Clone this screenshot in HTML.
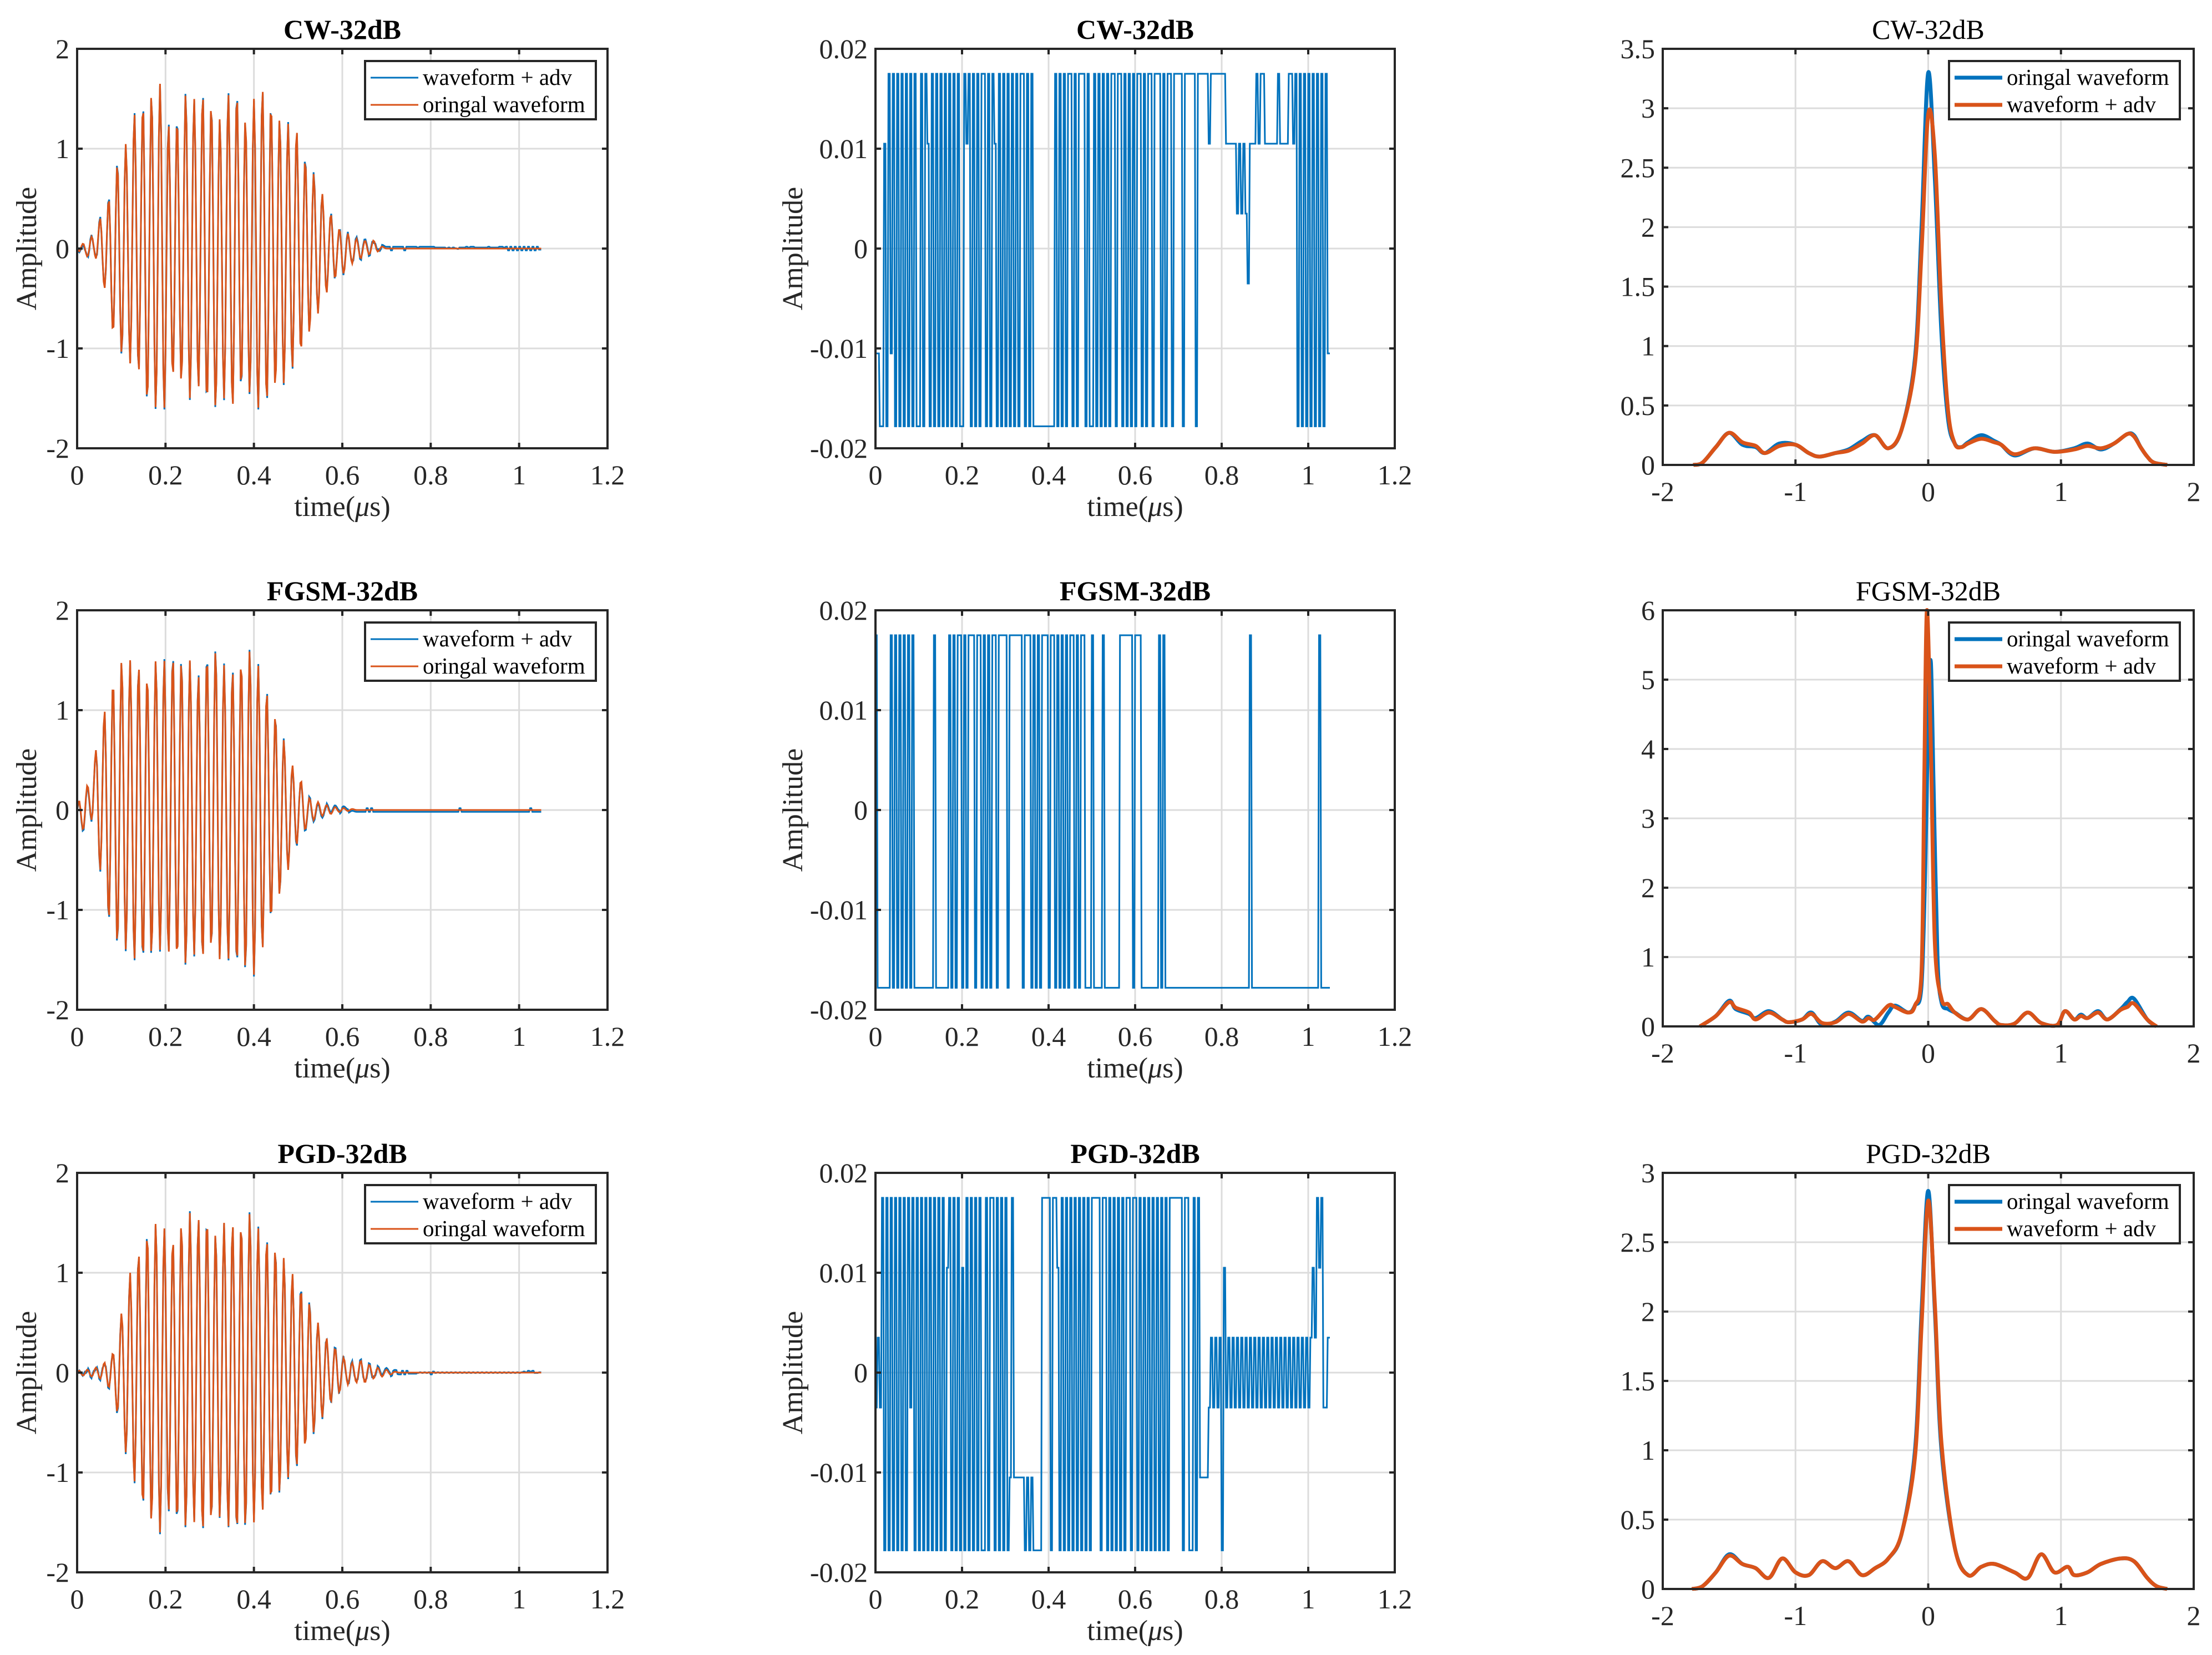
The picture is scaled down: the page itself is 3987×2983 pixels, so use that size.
<!DOCTYPE html>
<html><head><meta charset="utf-8"><style>
html,body{margin:0;padding:0;background:#fff;}
svg{display:block;font-family:"Liberation Serif","DejaVu Serif",serif;}
</style></head><body>
<svg id="fig" xmlns="http://www.w3.org/2000/svg" width="3987" height="2983" viewBox="0 0 3987 2983"></svg>
<script>
// ---------- data ----------
const waveHalfPeriod = 0.00966;
const waveStart = 0.004;
const cwWave = [-0.03,0.05,-0.08,0.12,-0.1, 0.3,-0.4,0.5,-0.85,0.85, -1.05,1.05,-1.15,1.35,-1.25, 1.45,-1.55,1.55,-1.6,1.65, -1.6,1.25,-1.3,1.3,-1.35, 1.55,-1.5,1.5,-1.4,1.55, -1.55,1.45,-1.6,1.3,-1.5, 1.55,-1.6,1.55,-1.4,1.3, -1.45,1.5,-1.6,1.6,-1.55, 1.45,-1.4,1.3,-1.35,1.25, -1.2,1.2,-1.05,0.9,-0.85, 0.75,-0.65,0.55,-0.45,0.35, -0.3,0.2,-0.25,0.15,-0.15, 0.1,-0.1,0.08,-0.06,0.08, -0.03,0.02];
const fgsmWave = [0.1,-0.2,0.25,-0.1,0.6, -0.6,1.0,-1.1,1.3,-1.35, 1.5,-1.4,1.5,-1.5,1.45, -1.5,1.35,-1.45,1.5,-1.4, 1.5,-1.45,1.55,-1.5,1.5, -1.55,1.5,-1.45,1.35,-1.5, 1.55,-1.4,1.6,-1.5,1.45, -1.5,1.4,-1.55,1.5,-1.6, 1.6,-1.65,1.45,-1.4,1.2, -1.1,0.95,-0.85,0.7,-0.6, 0.45,-0.35,0.3,-0.2,0.12, -0.1,0.08,-0.06,0.05,-0.04, 0.03,-0.02,0.02,-0.01,0.01];
const pgdWave = [0.02,-0.03,0.03,-0.04,0.05, -0.06,0.1,-0.15,0.2,-0.4, 0.6,-0.8,1.0,-1.1,1.2, -1.35,1.4,-1.5,1.5,-1.6, 1.45,-1.4,1.35,-1.5,1.5, -1.55,1.6,-1.5,1.55,-1.6, 1.55,-1.5,1.4,-1.45,1.5, -1.55,1.5,-1.6,1.5,-1.55, 1.6,-1.5,1.45,-1.4,1.35, -1.3,1.25,-1.2,1.15,-1.05, 1.0,-0.95,0.85,-0.75,0.7, -0.6,0.5,-0.45,0.35,-0.3, 0.25,-0.2,0.15,-0.12,0.1, -0.1,0.12,-0.1,0.08,-0.06, 0.05,-0.04,0.03,-0.02,0.01];

// perturbation: one char per 0.005 us, level index 0..5 -> -0.0175 .. 0.0175
const pertStep = 0.005;
const pertLevels = [-0.0178,-0.0105,-0.0035,0.0035,0.0105,0.0175];
const cwPert = "1100405150"+"5050505050"+"0505405050"+"5050505050"+"0545050505"+"5050540505"+"0505050550"+"5050000000"+"0005050505"+"5050555050"+"0505050505"+"5055050505"+"0550505505"+"5505055055"+"5505555505"+"5555455555"+"5544444343"+"4324445455"+"4444445444"+"4554505050"+"5050505051"+"1";
const fgsmPert = "5000000505"+"0505050500"+"0000000500"+"0000505055"+"0505550550"+"5050550555"+"5055555505"+"5505050555"+"0550505050"+"5505055000"+"5000050000"+"0005555550"+"5550000000"+"0505000000"+"0000000000"+"0000000000"+"0000000000"+"0005000000"+"0000000000"+"0000000000"+"0000050000"+"0";
const pgdPert = "2325050505"+"0505052505"+"0505050505"+"0504505050"+"4050505050"+"0505505050"+"5015111110"+"1010000555"+"5055405050"+"5050505050"+"5555055050"+"5050505505"+"5050505050"+"5050505555"+"5505500505"+"1111232323"+"0423232323"+"2323232323"+"2323232323"+"2323232323"+"2343545223"+"3";

// spectra
const cwSpecX = [-1.77,-1.7,-1.6,-1.5,-1.4,-1.3,-1.23,-1.12,-1.0,-0.9,-0.82,-0.7,-0.6,-0.5,-0.4,-0.3,-0.2,-0.1,-0.05,0,0.05,0.1,0.15,0.2,0.25,0.3,0.4,0.5,0.55,0.65,0.8,0.95,1.1,1.2,1.3,1.4,1.5,1.55,1.6,1.65,1.7,1.8];
const cwSpecOrig = [0,0.02,0.15,0.27,0.17,0.15,0.1,0.18,0.17,0.1,0.07,0.1,0.13,0.2,0.25,0.14,0.3,0.9,2.0,3.3,2.4,1.1,0.38,0.18,0.15,0.19,0.25,0.2,0.17,0.08,0.14,0.11,0.14,0.18,0.13,0.18,0.26,0.25,0.15,0.07,0.02,0];
const cwSpecAdv = [0,0.02,0.15,0.27,0.19,0.16,0.1,0.16,0.17,0.1,0.07,0.1,0.12,0.18,0.25,0.14,0.3,0.85,1.8,2.95,2.6,1.3,0.45,0.18,0.15,0.18,0.22,0.19,0.17,0.09,0.14,0.11,0.13,0.16,0.14,0.18,0.26,0.24,0.15,0.07,0.02,0];

const fgsmSpecXOrig = [-1.72,-1.6,-1.5,-1.45,-1.35,-1.3,-1.2,-1.1,-1.05,-0.95,-0.88,-0.8,-0.7,-0.6,-0.5,-0.45,-0.37,-0.3,-0.25,-0.15,-0.1,-0.05,-0.02,0,0.02,0.04,0.07,0.1,0.15,0.2,0.3,0.4,0.5,0.55,0.65,0.75,0.85,0.97,1.03,1.1,1.15,1.2,1.28,1.35,1.45,1.5,1.55,1.65,1.72];
const fgsmSpecOrig = [0,0.15,0.37,0.25,0.18,0.12,0.22,0.1,0.06,0.1,0.2,0.02,0.07,0.2,0.08,0.14,0.02,0.2,0.3,0.2,0.3,0.6,2.5,4.5,5.25,3.5,1.0,0.35,0.25,0.2,0.1,0.25,0.08,0.02,0.04,0.2,0.05,0.02,0.22,0.1,0.17,0.12,0.22,0.1,0.25,0.35,0.4,0.1,0];
const fgsmSpecXAdv = [-1.72,-1.6,-1.5,-1.45,-1.35,-1.3,-1.2,-1.1,-1.05,-0.95,-0.88,-0.8,-0.7,-0.6,-0.5,-0.45,-0.4,-0.3,-0.25,-0.15,-0.1,-0.05,-0.03,-0.01,0.02,0.05,0.1,0.15,0.2,0.3,0.4,0.5,0.55,0.65,0.75,0.85,0.97,1.03,1.1,1.15,1.2,1.28,1.35,1.45,1.5,1.55,1.65,1.72];
const fgsmSpecAdv = [0,0.15,0.35,0.27,0.2,0.1,0.2,0.1,0.06,0.1,0.18,0.05,0.06,0.18,0.07,0.12,0.1,0.3,0.28,0.2,0.3,0.8,3.5,6.0,4.0,1.2,0.4,0.32,0.2,0.1,0.25,0.08,0.02,0.04,0.2,0.05,0.02,0.22,0.1,0.15,0.12,0.2,0.1,0.24,0.28,0.33,0.1,0];

const pgdSpecX = [-1.78,-1.7,-1.6,-1.5,-1.4,-1.3,-1.2,-1.1,-1.0,-0.9,-0.8,-0.7,-0.6,-0.5,-0.4,-0.3,-0.2,-0.1,-0.05,0,0.05,0.1,0.2,0.3,0.4,0.5,0.65,0.75,0.85,0.95,1.05,1.1,1.2,1.3,1.45,1.55,1.65,1.72,1.8];
const pgdSpecOrig = [0,0.02,0.12,0.25,0.18,0.15,0.08,0.22,0.12,0.1,0.2,0.15,0.2,0.1,0.15,0.22,0.4,1.0,2.0,2.87,2.0,1.0,0.3,0.1,0.16,0.18,0.12,0.08,0.25,0.12,0.16,0.1,0.12,0.18,0.22,0.2,0.08,0.02,0];
const pgdSpecAdv = [0,0.02,0.12,0.24,0.18,0.15,0.08,0.22,0.12,0.1,0.2,0.15,0.2,0.1,0.15,0.22,0.4,0.95,1.9,2.8,2.05,1.05,0.3,0.1,0.16,0.18,0.12,0.08,0.25,0.12,0.16,0.1,0.12,0.18,0.22,0.2,0.08,0.02,0];

const leftYTicks = [-2,-1,0,1,2];
const timeTicks = [0,0.2,0.4,0.6,0.8,1,1.2];
const pertTicks = [-0.02,-0.01,0,0.01,0.02];
const specXTicks = [-2,-1,0,1,2];
const cwSpecTicks = [0,0.5,1,1.5,2,2.5,3,3.5];
const fgsmSpecTicks = [0,1,2,3,4,5,6];
const pgdSpecTicks = [0,0.5,1,1.5,2,2.5,3];

// ---------- drawing ----------
const NS = "http://www.w3.org/2000/svg";
const svg = document.getElementById("fig");
const BLUE = "#0072BD", ORANGE = "#D95319", INK = "#262626", GRID = "#dcdcdc";
function mk(tag, parent, attrs){ const e = document.createElementNS(NS, tag); for (const k in attrs) e.setAttribute(k, attrs[k]); parent.appendChild(e); return e; }
function fmt(v){ return (Math.round(v*1000)/1000).toString(); }

function makeAxes(name, x0, y0, w, h, xmin, xmax, ymin, ymax, xt, yt, title, titleBold, showXLabel, yLabelOff){
  const g = mk("g", svg, {});
  
  
  const sx = v => x0 + (v - xmin) / (xmax - xmin) * w;
  const sy = v => y0 + h - (v - ymin) / (ymax - ymin) * h;
  const grid = mk("g", g, {stroke: GRID, "stroke-width": 3});
  
  
  xt.forEach(v => { if (v > xmin && v < xmax) mk("line", grid, {x1: sx(v), x2: sx(v), y1: y0, y2: y0 + h}); });
  yt.forEach(v => { if (v > ymin && v < ymax) mk("line", grid, {x1: x0, x2: x0 + w, y1: sy(v), y2: sy(v)}); });
  const plot = mk("g", g, {});
  
  
  const over = mk("g", g, {});
  const frame = mk("rect", over, {x: x0, y: y0, width: w, height: h, fill: "none", stroke: INK, "stroke-width": 4});
  
  
  const ticks = mk("g", over, {stroke: INK, "stroke-width": 4});
  xt.forEach(v => { mk("line", ticks, {x1: sx(v), x2: sx(v), y1: y0 + h, y2: y0 + h - 10}); mk("line", ticks, {x1: sx(v), x2: sx(v), y1: y0, y2: y0 + 10}); });
  yt.forEach(v => { mk("line", ticks, {x1: x0, x2: x0 + 10, y1: sy(v), y2: sy(v)}); mk("line", ticks, {x1: x0 + w, x2: x0 + w - 10, y1: sy(v), y2: sy(v)}); });
  xt.forEach(v => {
    const t = mk("text", over, {x: sx(v), y: y0 + h + 65, "text-anchor": "middle", "font-size": 50, fill: INK});
    t.textContent = fmt(v);
    
    
  });
  yt.forEach(v => {
    const t = mk("text", over, {x: x0 - 14, y: sy(v) + 17, "text-anchor": "end", "font-size": 50, fill: INK});
    t.textContent = fmt(v);
    
    
  });
  const tt = mk("text", over, {x: x0 + w / 2, y: y0 - 18, "text-anchor": "middle", "font-size": 50, "font-weight": titleBold ? "bold" : "normal", fill: "#000"});
  tt.textContent = title;
  
  
  if (showXLabel){
    const xl = mk("text", over, {x: x0 + w / 2, y: y0 + h + 122, "text-anchor": "middle", "font-size": 52, fill: INK});
    xl.innerHTML = 'time(<tspan font-style="italic">μ</tspan>s)';
    
    
  }
  if (yLabelOff){
    const cx = x0 - yLabelOff, cy = y0 + h / 2;
    const yl = mk("text", over, {x: cx, y: cy, "text-anchor": "middle", "font-size": 52, fill: INK, transform: `rotate(-90 ${cx} ${cy}) translate(0 17)`});
    yl.textContent = "Amplitude";
    
    
  }
  return {sx, sy, plot, over, x0, y0, w, h};
}

function legend(ax, entries, lx, ly, lw, lh, lw1){
  const g = mk("g", ax.over, {});
  
  
  mk("rect", g, {x: lx, y: ly, width: lw, height: lh, fill: "#fff", stroke: INK, "stroke-width": 4});
  entries.forEach((en, i) => {
    const cy = ly + 30 + i * 49;
    const e = mk("g", g, {});
    
    
    mk("line", e, {x1: lx + 10, x2: lx + 96, y1: cy, y2: cy, stroke: en[1], "stroke-width": lw1});
    const t = mk("text", e, {x: lx + 104, y: cy + 13, "font-size": 41, fill: "#000"});
    t.textContent = en[0];
  });
}

function waveAt(arr, t){
  const k = (t - waveStart) / waveHalfPeriod;
  if (k < 0) return arr[0] * Math.max(0, (t / waveStart));
  const i = Math.floor(k), f = k - i;
  const a = i < arr.length ? arr[i] : 0, b = i + 1 < arr.length ? arr[i + 1] : 0;
  const s = (1 - Math.cos(Math.PI * f)) / 2;
  return a + (b - a) * s;
}
function pertAt(str, t){
  let i = Math.floor(t / pertStep + 1e-9); if (i >= str.length) i = str.length - 1;
  return pertLevels[+str[i]];
}
function pathFrom(pts){ return pts.map((p, i) => (i ? "L" : "M") + p[0].toFixed(1) + " " + p[1].toFixed(1)).join(""); }
function smoothPath(pts){
  let d = "M" + pts[0][0] + " " + pts[0][1];
  for (let i = 0; i < pts.length - 1; i++){
    const p0 = pts[Math.max(0, i - 1)], p1 = pts[i], p2 = pts[i + 1], p3 = pts[Math.min(pts.length - 1, i + 2)];
    const c1 = [p1[0] + (p2[0] - p0[0]) / 6, p1[1] + (p2[1] - p0[1]) / 6];
    const c2 = [p2[0] - (p3[0] - p1[0]) / 6, p2[1] - (p3[1] - p1[1]) / 6];
    d += `C${c1[0].toFixed(1)} ${c1[1].toFixed(1)} ${c2[0].toFixed(1)} ${c2[1].toFixed(1)} ${p2[0].toFixed(1)} ${p2[1].toFixed(1)}`;
  }
  return d;
}

const cols = [[139, 1095], [1578, 2514], [2997, 3954]];
const rowTops = [88, 1100, 2114];
const names = ["CW-32dB", "FGSM-32dB", "PGD-32dB"];
const waves = [cwWave, fgsmWave, pgdWave];
const perts = [cwPert, fgsmPert, pgdPert];
const specs = [
  [cwSpecX, cwSpecOrig, cwSpecX, cwSpecAdv, cwSpecTicks, 3.5],
  [fgsmSpecXOrig, fgsmSpecOrig, fgsmSpecXAdv, fgsmSpecAdv, fgsmSpecTicks, 6],
  [pgdSpecX, pgdSpecOrig, pgdSpecX, pgdSpecAdv, pgdSpecTicks, 3]
];

for (let r = 0; r < 3; r++){
  const top = rowTops[r];
  const a1 = makeAxes("waveform-panel", cols[0][0], top, cols[0][1] - cols[0][0], 720, 0, 1.2, -2, 2, timeTicks, leftYTicks, names[r], true, true, 91);
  const blue = [], orange = [];
  for (let t = 0; t <= 1.05 + 1e-9; t += 0.0025){
    const v = waveAt(waves[r], t);
    orange.push([a1.sx(t), a1.sy(v)]);
    blue.push([a1.sx(t), a1.sy(v + pertAt(perts[r], t))]);
  }
  const pb = mk("path", a1.plot, {d: pathFrom(blue), fill: "none", stroke: BLUE, "stroke-width": 3});
  
  
  const po = mk("path", a1.plot, {d: pathFrom(orange), fill: "none", stroke: ORANGE, "stroke-width": 3});
  
  
  legend(a1, [["waveform + adv", BLUE], ["oringal waveform", ORANGE]], a1.x0 + a1.w - 437, top + 22, 416, 105, 3);

  const a2 = makeAxes("perturbation-panel", cols[1][0], top, cols[1][1] - cols[1][0], 720, 0, 1.2, -0.02, 0.02, timeTicks, pertTicks, names[r], true, true, 149);
  const pp = [];
  const s = perts[r];
  for (let i = 0; i < s.length; i++){
    const v = pertLevels[+s[i]];
    const t0 = Math.min(1.05, i * pertStep), t1 = Math.min(1.05, (i + 0.6) * pertStep);
    pp.push([a2.sx(t0), a2.sy(v)]);
    pp.push([a2.sx(t1), a2.sy(v)]);
  }
  const pl = mk("path", a2.plot, {d: pathFrom(pp), fill: "none", stroke: BLUE, "stroke-width": 3});
  
  

  const sp = specs[r];
  const a3 = makeAxes("spectrum-panel", cols[2][0], top, cols[2][1] - cols[2][0], 750, -2, 2, 0, sp[5], specXTicks, sp[4], names[r], false, false, 0);
  const ob = sp[0].map((x, i) => [a3.sx(x), a3.sy(sp[1][i])]);
  const oa = sp[2].map((x, i) => [a3.sx(x), a3.sy(sp[3][i])]);
  const sb = mk("path", a3.plot, {d: smoothPath(ob), fill: "none", stroke: BLUE, "stroke-width": 7, "stroke-linejoin": "round"});
  
  
  const sa = mk("path", a3.plot, {d: smoothPath(oa), fill: "none", stroke: ORANGE, "stroke-width": 7, "stroke-linejoin": "round"});
  
  
  legend(a3, [["oringal waveform", BLUE], ["waveform + adv", ORANGE]], a3.x0 + a3.w - 441, top + 22, 416, 105, 7);
}
</script>
</body></html>
